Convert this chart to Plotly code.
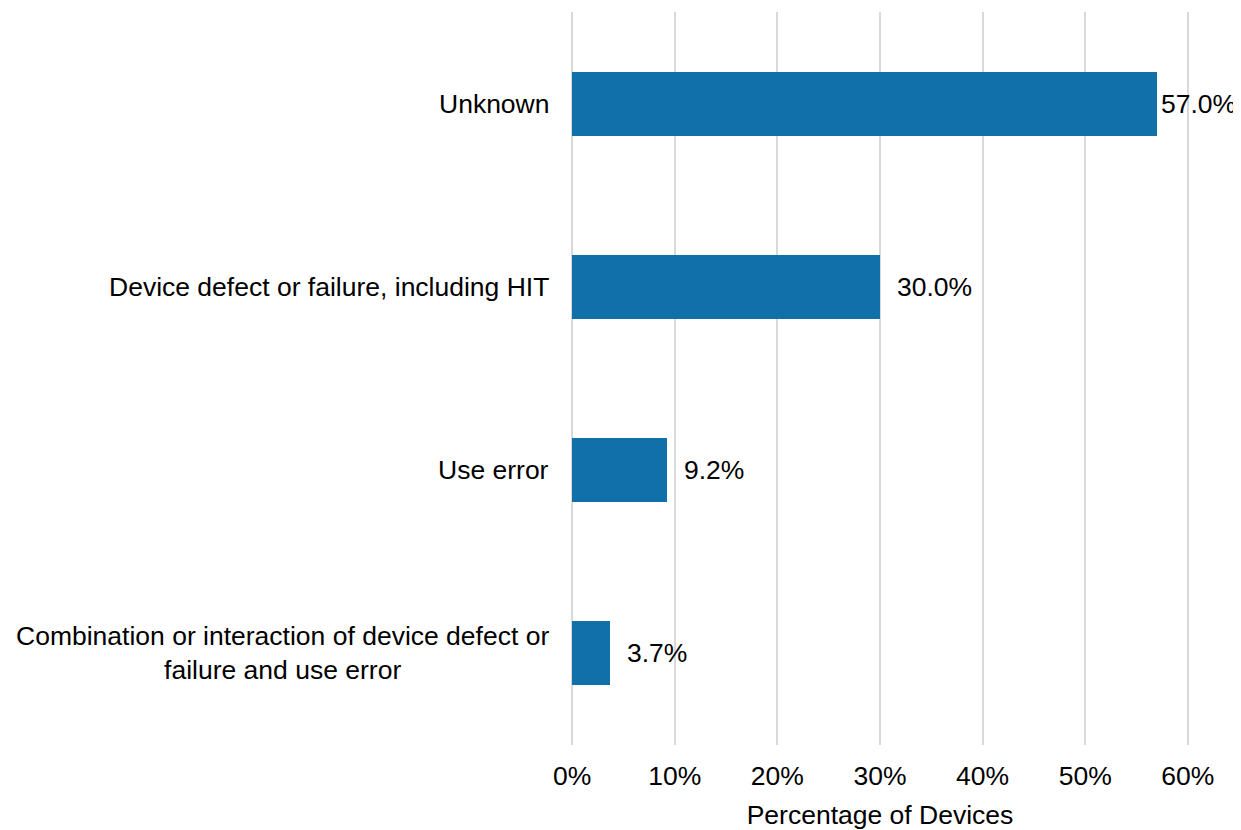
import plotly.graph_objects as go

categories = [
    "Unknown",
    "Device defect or failure, including HIT",
    "Use error",
    "Combination or interaction of device defect or<br>failure and use error",
]
values = [57.0, 30.0, 9.2, 3.7]
labels = ["57.0%", "30.0%", "9.2%", "3.7%"]
label_shift = [2, 15, 15, 15]
tick_vals = [0, 10, 20, 30, 40, 50, 60]
tick_text = ["0%", "10%", "20%", "30%", "40%", "50%", "60%"]

FONT = "Liberation Sans, Arial, sans-serif"
FS = 26.5
BAR = "#1170aa"

fig = go.Figure()
fig.add_trace(go.Bar(
    x=values, y=categories, orientation="h",
    marker=dict(color=BAR, line=dict(width=0)),
    width=0.35, hoverinfo="skip", cliponaxis=False,
))
for v, c, t, s in zip(values, categories, labels, label_shift):
    fig.add_annotation(x=v, y=c, text=t, showarrow=False, xanchor="left",
                       yanchor="middle", xshift=s,
                       font=dict(family=FONT, size=FS, color="#000000"))
for c in categories:
    fig.add_annotation(x=0, xref="paper", y=c, yref="y", text=c,
                       showarrow=False, xanchor="right", yanchor="middle",
                       align="center", xshift=-16,
                       font=dict(family=FONT, size=FS, color="#000000"))

fig.update_layout(
    width=1233, height=822,
    margin=dict(l=559, r=48, t=4, b=83),
    paper_bgcolor="white", plot_bgcolor="white",
    font=dict(family=FONT, size=FS, color="#000000"),
    showlegend=False,
    bargap=0,
)
fig.update_xaxes(
    range=[-0.5, 60.5], tickvals=tick_vals, ticktext=tick_text,
    showgrid=True, gridcolor="#d9d9d9", gridwidth=2,
    zeroline=False, showline=False,
    ticks="outside", ticklen=7, tickcolor="rgba(0,0,0,0)",
    title=dict(text="Percentage of Devices", standoff=17,
               font=dict(family=FONT, size=FS, color="#000000")),
    tickfont=dict(family=FONT, size=FS, color="#000000"),
)
fig.update_yaxes(
    range=[3.5, -0.5], showgrid=False, zeroline=False, showline=False,
    showticklabels=False,
)
fig.write_html("out.html")
